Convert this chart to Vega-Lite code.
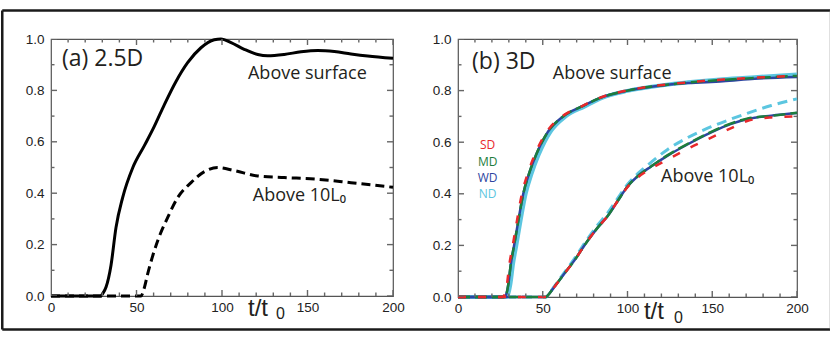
{
  "$schema": "https://vega.github.io/schema/vega-lite/v6.json",
  "padding": {"left": 0, "top": 8, "right": 0, "bottom": 0},
  "bounds": "flush",
  "spacing": 65,
  "config": {
    "view": {"stroke": "#555555", "strokeWidth": 1.2},
    "axis": {"domain": false, "grid": false, "ticks": false, "tickSize": 0, "labelFont": "Liberation Sans", "labelFontSize": 13.5, "labelColor": "#222222", "labelFlush": false, "labelOverlap": false}
  },
  "datasets": {
    "xticks": [
      {"v": 0, "kind": "major"}, {"v": 10, "kind": "minor"}, {"v": 20, "kind": "minor"}, {"v": 30, "kind": "minor"}, {"v": 40, "kind": "minor"}, {"v": 50, "kind": "major"}, {"v": 60, "kind": "minor"}, {"v": 70, "kind": "minor"}, {"v": 80, "kind": "minor"}, {"v": 90, "kind": "minor"}, {"v": 100, "kind": "major"}, {"v": 110, "kind": "minor"}, {"v": 120, "kind": "minor"}, {"v": 130, "kind": "minor"}, {"v": 140, "kind": "minor"}, {"v": 150, "kind": "major"}, {"v": 160, "kind": "minor"}, {"v": 170, "kind": "minor"}, {"v": 180, "kind": "minor"}, {"v": 190, "kind": "minor"}, {"v": 200, "kind": "major"}
    ],
    "yticks": [
      {"v": 0, "kind": "major"}, {"v": 0.1, "kind": "minor"}, {"v": 0.2, "kind": "major"}, {"v": 0.3, "kind": "minor"}, {"v": 0.4, "kind": "major"}, {"v": 0.5, "kind": "minor"}, {"v": 0.6, "kind": "major"}, {"v": 0.7, "kind": "minor"}, {"v": 0.8, "kind": "major"}, {"v": 0.9, "kind": "minor"}, {"v": 1.0, "kind": "major"}
    ],
    "a": [
      {"level": "surface", "t": 0, "y": 0}, {"level": "surface", "t": 29, "y": 0}, {"level": "surface", "t": 30.5, "y": 0.012}, {"level": "surface", "t": 32.2, "y": 0.035}, {"level": "surface", "t": 35.1, "y": 0.12}, {"level": "surface", "t": 38, "y": 0.266}, {"level": "surface", "t": 41.9, "y": 0.383}, {"level": "surface", "t": 47.8, "y": 0.499}, {"level": "surface", "t": 54.6, "y": 0.585}, {"level": "surface", "t": 60.4, "y": 0.66}, {"level": "surface", "t": 66.3, "y": 0.745}, {"level": "surface", "t": 73.1, "y": 0.835}, {"level": "surface", "t": 79.9, "y": 0.908}, {"level": "surface", "t": 87.7, "y": 0.966}, {"level": "surface", "t": 95.5, "y": 0.997}, {"level": "surface", "t": 99.4, "y": 1.0}, {"level": "surface", "t": 105.3, "y": 0.986}, {"level": "surface", "t": 113, "y": 0.96}, {"level": "surface", "t": 120.9, "y": 0.94}, {"level": "surface", "t": 126.7, "y": 0.935}, {"level": "surface", "t": 136.4, "y": 0.94}, {"level": "surface", "t": 146.2, "y": 0.95}, {"level": "surface", "t": 156, "y": 0.955}, {"level": "surface", "t": 165.7, "y": 0.951}, {"level": "surface", "t": 175.4, "y": 0.942}, {"level": "surface", "t": 185.2, "y": 0.934}, {"level": "surface", "t": 200, "y": 0.925},
      {"level": "10L0", "t": 0, "y": 0}, {"level": "10L0", "t": 52.6, "y": 0}, {"level": "10L0", "t": 54.5, "y": 0.03}, {"level": "10L0", "t": 56.5, "y": 0.085}, {"level": "10L0", "t": 62.4, "y": 0.215}, {"level": "10L0", "t": 68.2, "y": 0.305}, {"level": "10L0", "t": 74.1, "y": 0.383}, {"level": "10L0", "t": 81.9, "y": 0.441}, {"level": "10L0", "t": 89.7, "y": 0.484}, {"level": "10L0", "t": 97.5, "y": 0.5}, {"level": "10L0", "t": 107.2, "y": 0.488}, {"level": "10L0", "t": 120.9, "y": 0.467}, {"level": "10L0", "t": 136.4, "y": 0.461}, {"level": "10L0", "t": 156, "y": 0.454}, {"level": "10L0", "t": 175.4, "y": 0.441}, {"level": "10L0", "t": 200, "y": 0.423}
    ],
    "b": [
      {"series": "MD", "level": "surface", "t": 0, "y": 0}, {"series": "MD", "level": "surface", "t": 27, "y": 0}, {"series": "MD", "level": "surface", "t": 28.5, "y": 0.012}, {"series": "MD", "level": "surface", "t": 29.7, "y": 0.05}, {"series": "MD", "level": "surface", "t": 31.2, "y": 0.13}, {"series": "MD", "level": "surface", "t": 33.1, "y": 0.2}, {"series": "MD", "level": "surface", "t": 35.7, "y": 0.3}, {"series": "MD", "level": "surface", "t": 38.5, "y": 0.4}, {"series": "MD", "level": "surface", "t": 42, "y": 0.48}, {"series": "MD", "level": "surface", "t": 46, "y": 0.55}, {"series": "MD", "level": "surface", "t": 53, "y": 0.64}, {"series": "MD", "level": "surface", "t": 62, "y": 0.7}, {"series": "MD", "level": "surface", "t": 73.5, "y": 0.74}, {"series": "MD", "level": "surface", "t": 84.3, "y": 0.773}, {"series": "MD", "level": "surface", "t": 100, "y": 0.8}, {"series": "MD", "level": "surface", "t": 121.8, "y": 0.822}, {"series": "MD", "level": "surface", "t": 135.6, "y": 0.831}, {"series": "MD", "level": "surface", "t": 156.3, "y": 0.842}, {"series": "MD", "level": "surface", "t": 175, "y": 0.849}, {"series": "MD", "level": "surface", "t": 200, "y": 0.857},
      {"series": "SD", "level": "surface", "t": 0, "y": 0}, {"series": "SD", "level": "surface", "t": 26.2, "y": 0}, {"series": "SD", "level": "surface", "t": 27.7, "y": 0.012}, {"series": "SD", "level": "surface", "t": 28.9, "y": 0.05}, {"series": "SD", "level": "surface", "t": 30.4, "y": 0.13}, {"series": "SD", "level": "surface", "t": 32.3, "y": 0.2}, {"series": "SD", "level": "surface", "t": 34.9, "y": 0.3}, {"series": "SD", "level": "surface", "t": 37.7, "y": 0.4}, {"series": "SD", "level": "surface", "t": 41.2, "y": 0.48}, {"series": "SD", "level": "surface", "t": 45.2, "y": 0.55}, {"series": "SD", "level": "surface", "t": 52.3, "y": 0.64}, {"series": "SD", "level": "surface", "t": 61.5, "y": 0.7}, {"series": "SD", "level": "surface", "t": 73.5, "y": 0.741}, {"series": "SD", "level": "surface", "t": 84.3, "y": 0.774}, {"series": "SD", "level": "surface", "t": 100, "y": 0.801}, {"series": "SD", "level": "surface", "t": 121.8, "y": 0.823}, {"series": "SD", "level": "surface", "t": 135.6, "y": 0.832}, {"series": "SD", "level": "surface", "t": 156.3, "y": 0.843}, {"series": "SD", "level": "surface", "t": 175, "y": 0.85}, {"series": "SD", "level": "surface", "t": 200, "y": 0.857},
      {"series": "WD", "level": "surface", "t": 0, "y": 0}, {"series": "WD", "level": "surface", "t": 27, "y": 0}, {"series": "WD", "level": "surface", "t": 28.5, "y": 0.012}, {"series": "WD", "level": "surface", "t": 29.7, "y": 0.05}, {"series": "WD", "level": "surface", "t": 31.2, "y": 0.13}, {"series": "WD", "level": "surface", "t": 33.1, "y": 0.2}, {"series": "WD", "level": "surface", "t": 35.7, "y": 0.3}, {"series": "WD", "level": "surface", "t": 38.5, "y": 0.4}, {"series": "WD", "level": "surface", "t": 42, "y": 0.48}, {"series": "WD", "level": "surface", "t": 46, "y": 0.55}, {"series": "WD", "level": "surface", "t": 53, "y": 0.64}, {"series": "WD", "level": "surface", "t": 62, "y": 0.7}, {"series": "WD", "level": "surface", "t": 73.5, "y": 0.74}, {"series": "WD", "level": "surface", "t": 84.3, "y": 0.773}, {"series": "WD", "level": "surface", "t": 100, "y": 0.8}, {"series": "WD", "level": "surface", "t": 121.8, "y": 0.821}, {"series": "WD", "level": "surface", "t": 135.6, "y": 0.829}, {"series": "WD", "level": "surface", "t": 156.3, "y": 0.836}, {"series": "WD", "level": "surface", "t": 175, "y": 0.846}, {"series": "WD", "level": "surface", "t": 200, "y": 0.853},
      {"series": "ND", "level": "surface", "t": 0, "y": 0}, {"series": "ND", "level": "surface", "t": 28, "y": 0}, {"series": "ND", "level": "surface", "t": 29.6, "y": 0.012}, {"series": "ND", "level": "surface", "t": 30.9, "y": 0.05}, {"series": "ND", "level": "surface", "t": 32.5, "y": 0.13}, {"series": "ND", "level": "surface", "t": 34.4, "y": 0.2}, {"series": "ND", "level": "surface", "t": 37, "y": 0.3}, {"series": "ND", "level": "surface", "t": 39.9, "y": 0.4}, {"series": "ND", "level": "surface", "t": 43.5, "y": 0.48}, {"series": "ND", "level": "surface", "t": 47.5, "y": 0.55}, {"series": "ND", "level": "surface", "t": 54.5, "y": 0.64}, {"series": "ND", "level": "surface", "t": 63.5, "y": 0.7}, {"series": "ND", "level": "surface", "t": 74.5, "y": 0.738}, {"series": "ND", "level": "surface", "t": 85, "y": 0.772}, {"series": "ND", "level": "surface", "t": 100, "y": 0.799}, {"series": "ND", "level": "surface", "t": 121.8, "y": 0.822}, {"series": "ND", "level": "surface", "t": 135.6, "y": 0.832}, {"series": "ND", "level": "surface", "t": 156.3, "y": 0.844}, {"series": "ND", "level": "surface", "t": 175, "y": 0.852}, {"series": "ND", "level": "surface", "t": 200, "y": 0.862},
      {"series": "MD", "level": "10L0", "t": 0, "y": 0}, {"series": "MD", "level": "10L0", "t": 52, "y": 0}, {"series": "MD", "level": "10L0", "t": 53, "y": 0.006}, {"series": "MD", "level": "10L0", "t": 56.7, "y": 0.038}, {"series": "MD", "level": "10L0", "t": 62.7, "y": 0.09}, {"series": "MD", "level": "10L0", "t": 68.6, "y": 0.141}, {"series": "MD", "level": "10L0", "t": 76.5, "y": 0.218}, {"series": "MD", "level": "10L0", "t": 82.4, "y": 0.269}, {"series": "MD", "level": "10L0", "t": 88.3, "y": 0.314}, {"series": "MD", "level": "10L0", "t": 94.2, "y": 0.372}, {"series": "MD", "level": "10L0", "t": 100.1, "y": 0.429}, {"series": "MD", "level": "10L0", "t": 106, "y": 0.468}, {"series": "MD", "level": "10L0", "t": 113.9, "y": 0.506}, {"series": "MD", "level": "10L0", "t": 123.7, "y": 0.55}, {"series": "MD", "level": "10L0", "t": 135.6, "y": 0.594}, {"series": "MD", "level": "10L0", "t": 149.4, "y": 0.64}, {"series": "MD", "level": "10L0", "t": 161.2, "y": 0.673}, {"series": "MD", "level": "10L0", "t": 171, "y": 0.692}, {"series": "MD", "level": "10L0", "t": 184.8, "y": 0.702}, {"series": "MD", "level": "10L0", "t": 200, "y": 0.714},
      {"series": "WD", "level": "10L0", "t": 0, "y": 0}, {"series": "WD", "level": "10L0", "t": 52, "y": 0}, {"series": "WD", "level": "10L0", "t": 53, "y": 0.006}, {"series": "WD", "level": "10L0", "t": 56.7, "y": 0.038}, {"series": "WD", "level": "10L0", "t": 62.7, "y": 0.09}, {"series": "WD", "level": "10L0", "t": 68.6, "y": 0.141}, {"series": "WD", "level": "10L0", "t": 76.5, "y": 0.218}, {"series": "WD", "level": "10L0", "t": 82.4, "y": 0.269}, {"series": "WD", "level": "10L0", "t": 88.3, "y": 0.314}, {"series": "WD", "level": "10L0", "t": 94.2, "y": 0.372}, {"series": "WD", "level": "10L0", "t": 100.1, "y": 0.429}, {"series": "WD", "level": "10L0", "t": 106, "y": 0.468}, {"series": "WD", "level": "10L0", "t": 113.9, "y": 0.506}, {"series": "WD", "level": "10L0", "t": 123.7, "y": 0.548}, {"series": "WD", "level": "10L0", "t": 135.6, "y": 0.592}, {"series": "WD", "level": "10L0", "t": 149.4, "y": 0.638}, {"series": "WD", "level": "10L0", "t": 161.2, "y": 0.671}, {"series": "WD", "level": "10L0", "t": 171, "y": 0.69}, {"series": "WD", "level": "10L0", "t": 184.8, "y": 0.703}, {"series": "WD", "level": "10L0", "t": 200, "y": 0.713},
      {"series": "SD", "level": "10L0", "t": 0, "y": 0}, {"series": "SD", "level": "10L0", "t": 52, "y": 0}, {"series": "SD", "level": "10L0", "t": 53, "y": 0.006}, {"series": "SD", "level": "10L0", "t": 56.7, "y": 0.038}, {"series": "SD", "level": "10L0", "t": 62.7, "y": 0.09}, {"series": "SD", "level": "10L0", "t": 68.6, "y": 0.141}, {"series": "SD", "level": "10L0", "t": 76.5, "y": 0.218}, {"series": "SD", "level": "10L0", "t": 82.4, "y": 0.269}, {"series": "SD", "level": "10L0", "t": 88.3, "y": 0.314}, {"series": "SD", "level": "10L0", "t": 94.2, "y": 0.372}, {"series": "SD", "level": "10L0", "t": 100.1, "y": 0.427}, {"series": "SD", "level": "10L0", "t": 106, "y": 0.463}, {"series": "SD", "level": "10L0", "t": 113.9, "y": 0.498}, {"series": "SD", "level": "10L0", "t": 123.7, "y": 0.533}, {"series": "SD", "level": "10L0", "t": 135.6, "y": 0.575}, {"series": "SD", "level": "10L0", "t": 149.4, "y": 0.618}, {"series": "SD", "level": "10L0", "t": 161.2, "y": 0.655}, {"series": "SD", "level": "10L0", "t": 171, "y": 0.683}, {"series": "SD", "level": "10L0", "t": 184.8, "y": 0.696}, {"series": "SD", "level": "10L0", "t": 200, "y": 0.7},
      {"series": "ND", "level": "10L0", "t": 0, "y": 0}, {"series": "ND", "level": "10L0", "t": 52, "y": 0}, {"series": "ND", "level": "10L0", "t": 53, "y": 0.006}, {"series": "ND", "level": "10L0", "t": 56.7, "y": 0.04}, {"series": "ND", "level": "10L0", "t": 62.7, "y": 0.094}, {"series": "ND", "level": "10L0", "t": 68.6, "y": 0.148}, {"series": "ND", "level": "10L0", "t": 76.5, "y": 0.226}, {"series": "ND", "level": "10L0", "t": 82.4, "y": 0.279}, {"series": "ND", "level": "10L0", "t": 88.3, "y": 0.326}, {"series": "ND", "level": "10L0", "t": 94.2, "y": 0.382}, {"series": "ND", "level": "10L0", "t": 100.1, "y": 0.437}, {"series": "ND", "level": "10L0", "t": 106, "y": 0.478}, {"series": "ND", "level": "10L0", "t": 113.9, "y": 0.522}, {"series": "ND", "level": "10L0", "t": 123.7, "y": 0.572}, {"series": "ND", "level": "10L0", "t": 135.6, "y": 0.618}, {"series": "ND", "level": "10L0", "t": 149.4, "y": 0.66}, {"series": "ND", "level": "10L0", "t": 161.2, "y": 0.69}, {"series": "ND", "level": "10L0", "t": 171, "y": 0.713}, {"series": "ND", "level": "10L0", "t": 184.8, "y": 0.742}, {"series": "ND", "level": "10L0", "t": 200, "y": 0.768}
    ],
    "labels": [
      {"panel": "a", "kind": "panel", "label": "(a) 2.5D", "t": 6.4, "y": 0.895},
      {"panel": "a", "kind": "note", "label": "Above surface", "t": 115.2, "y": 0.846},
      {"panel": "a", "kind": "note", "label": "Above 10L₀", "t": 118, "y": 0.37},
      {"panel": "a", "kind": "axis", "label": "t/t", "t": 115.2, "y": -0.078},
      {"panel": "a", "kind": "sub", "label": "0", "t": 131.6, "y": -0.089},
      {"panel": "b", "kind": "panel", "label": "(b) 3D", "t": 8.3, "y": 0.884},
      {"panel": "b", "kind": "note", "label": "Above surface", "t": 55.9, "y": 0.845},
      {"panel": "b", "kind": "note", "label": "Above 10L₀", "t": 119.8, "y": 0.444},
      {"panel": "b", "kind": "axis", "label": "t/t", "t": 109.7, "y": -0.085},
      {"panel": "b", "kind": "sub", "label": "0", "t": 127.4, "y": -0.099}
    ],
    "legend": [
      {"series": "SD", "t": 17.5, "y": 0.573},
      {"series": "MD", "t": 17.5, "y": 0.508},
      {"series": "WD", "t": 17.5, "y": 0.446},
      {"series": "ND", "t": 17.5, "y": 0.383}
    ]
  },
  "hconcat": [
    {
      "width": 342,
      "height": 257,
      "resolve": {"scale": {"x": "independent", "y": "independent"}},
      "layer": [
        {
          "data": {"name": "a"},
          "transform": [{"filter": "datum.level === 'surface'"}],
          "mark": {"type": "line", "color": "#000000", "strokeWidth": 3, "interpolate": "monotone"},
          "encoding": {
            "x": {"field": "t", "type": "quantitative", "scale": {"domain": [0, 200]}, "axis": {"orient": "bottom", "values": [0, 50, 100, 150, 200], "labelPadding": 4, "title": null}},
            "y": {"field": "y", "type": "quantitative", "scale": {"domain": [0, 1]}, "axis": {"orient": "left", "values": [0, 0.2, 0.4, 0.6, 0.8, 1], "format": ".1f", "labelPadding": 7, "title": null}}
          }
        },
        {
          "data": {"name": "a"},
          "transform": [{"filter": "datum.level === '10L0'"}],
          "mark": {"type": "line", "color": "#000000", "strokeWidth": 3, "strokeDash": [9, 5], "interpolate": "monotone"},
          "encoding": {
            "x": {"field": "t", "type": "quantitative", "scale": {"domain": [0, 200]}, "axis": null},
            "y": {"field": "y", "type": "quantitative", "scale": {"domain": [0, 1]}, "axis": null}
          }
        },
        {
          "data": {"name": "labels"},
          "transform": [{"filter": "datum.panel === 'a' && datum.kind === 'note'"}],
          "mark": {"type": "text", "align": "left", "baseline": "alphabetic", "font": "Open Sans", "fontSize": 18, "color": "#231f20"},
          "encoding": {
            "x": {"field": "t", "type": "quantitative", "scale": {"domain": [0, 200]}, "axis": null},
            "y": {"field": "y", "type": "quantitative", "scale": {"domain": [0, 1]}, "axis": null},
            "text": {"field": "label"}
          }
        },
        {
          "data": {"name": "labels"},
          "transform": [{"filter": "datum.panel === 'a' && datum.kind === 'panel'"}],
          "mark": {"type": "text", "align": "left", "baseline": "alphabetic", "font": "Open Sans", "fontSize": 23, "color": "#231f20"},
          "encoding": {
            "x": {"field": "t", "type": "quantitative", "scale": {"domain": [0, 200]}, "axis": null},
            "y": {"field": "y", "type": "quantitative", "scale": {"domain": [0, 1]}, "axis": null},
            "text": {"field": "label"}
          }
        },
        {
          "data": {"name": "labels"},
          "transform": [{"filter": "datum.panel === 'a' && datum.kind === 'axis'"}],
          "mark": {"type": "text", "align": "left", "baseline": "alphabetic", "font": "Liberation Sans", "fontSize": 24, "color": "#231f20"},
          "encoding": {
            "x": {"field": "t", "type": "quantitative", "scale": {"domain": [0, 200]}, "axis": null},
            "y": {"field": "y", "type": "quantitative", "scale": {"domain": [0, 1]}, "axis": null},
            "text": {"field": "label"}
          }
        },
        {
          "data": {"name": "labels"},
          "transform": [{"filter": "datum.panel === 'a' && datum.kind === 'sub'"}],
          "mark": {"type": "text", "align": "left", "baseline": "alphabetic", "font": "Liberation Sans", "fontSize": 16, "color": "#231f20"},
          "encoding": {
            "x": {"field": "t", "type": "quantitative", "scale": {"domain": [0, 200]}, "axis": null},
            "y": {"field": "y", "type": "quantitative", "scale": {"domain": [0, 1]}, "axis": null},
            "text": {"field": "label"}
          }
        },
        {
          "data": {"name": "xticks"},
          "mark": {"type": "tick", "orient": "vertical", "clip": true, "color": "#666666", "thickness": 1.4, "opacity": 1},
          "encoding": {
            "x": {"field": "v", "type": "quantitative", "scale": {"domain": [0, 200]}, "axis": null},
            "y": {"datum": 0, "type": "quantitative", "scale": {"domain": [0, 1]}, "axis": null},
            "size": {"field": "kind", "type": "ordinal", "scale": {"domain": ["major", "minor"], "range": [12, 7]}, "legend": null}
          }
        },
        {
          "data": {"name": "xticks"},
          "mark": {"type": "tick", "orient": "vertical", "clip": true, "color": "#666666", "thickness": 1.4, "opacity": 1},
          "encoding": {
            "x": {"field": "v", "type": "quantitative", "scale": {"domain": [0, 200]}, "axis": null},
            "y": {"datum": 1, "type": "quantitative", "scale": {"domain": [0, 1]}, "axis": null},
            "size": {"field": "kind", "type": "ordinal", "scale": {"domain": ["major", "minor"], "range": [12, 7]}, "legend": null}
          }
        },
        {
          "data": {"name": "yticks"},
          "mark": {"type": "tick", "orient": "horizontal", "clip": true, "color": "#666666", "thickness": 1.4, "opacity": 1},
          "encoding": {
            "y": {"field": "v", "type": "quantitative", "scale": {"domain": [0, 1]}, "axis": null},
            "x": {"datum": 0, "type": "quantitative", "scale": {"domain": [0, 200]}, "axis": null},
            "size": {"field": "kind", "type": "ordinal", "scale": {"domain": ["major", "minor"], "range": [12, 7]}, "legend": null}
          }
        },
        {
          "data": {"name": "yticks"},
          "mark": {"type": "tick", "orient": "horizontal", "clip": true, "color": "#666666", "thickness": 1.4, "opacity": 1},
          "encoding": {
            "y": {"field": "v", "type": "quantitative", "scale": {"domain": [0, 1]}, "axis": null},
            "x": {"datum": 200, "type": "quantitative", "scale": {"domain": [0, 200]}, "axis": null},
            "size": {"field": "kind", "type": "ordinal", "scale": {"domain": ["major", "minor"], "range": [12, 7]}, "legend": null}
          }
        },
        {
          "data": {"values": [{}]},
          "mark": {"type": "rule", "color": "#1a1a1a", "strokeWidth": 2.5},
          "encoding": {
            "x": {"datum": -28.5, "type": "quantitative", "scale": {"domain": [0, 200]}, "axis": null},
            "x2": {"datum": 455.7},
            "y": {"datum": 1.111, "type": "quantitative", "scale": {"domain": [0, 1]}, "axis": null}
          }
        },
        {
          "data": {"values": [{}]},
          "mark": {"type": "rule", "color": "#1a1a1a", "strokeWidth": 2.5},
          "encoding": {
            "x": {"datum": -28.5, "type": "quantitative", "scale": {"domain": [0, 200]}, "axis": null},
            "x2": {"datum": 455.7},
            "y": {"datum": -0.13, "type": "quantitative", "scale": {"domain": [0, 1]}, "axis": null}
          }
        },
        {
          "data": {"values": [{}]},
          "mark": {"type": "rule", "color": "#1a1a1a", "strokeWidth": 2.5},
          "encoding": {
            "x": {"datum": -28.5, "type": "quantitative", "scale": {"domain": [0, 200]}, "axis": null},
            "y": {"datum": -0.13, "type": "quantitative", "scale": {"domain": [0, 1]}, "axis": null},
            "y2": {"datum": 1.111}
          }
        },
        {
          "data": {"values": [{}]},
          "mark": {"type": "rule", "color": "#8a8a8a", "strokeWidth": 1},
          "encoding": {
            "x": {"datum": 455.7, "type": "quantitative", "scale": {"domain": [0, 200]}, "axis": null},
            "y": {"datum": -0.13, "type": "quantitative", "scale": {"domain": [0, 1]}, "axis": null},
            "y2": {"datum": 1.111}
          }
        }
      ]
    },
    {
      "width": 339,
      "height": 258,
      "resolve": {"scale": {"x": "independent", "y": "independent"}},
      "layer": [
        {
          "data": {"name": "b"},
          "transform": [{"filter": "datum.series === 'ND' && datum.level === 'surface'"}],
          "mark": {"type": "line", "strokeWidth": 4, "interpolate": "monotone"},
          "encoding": {
            "x": {"field": "t", "type": "quantitative", "scale": {"domain": [0, 200]}, "axis": {"orient": "bottom", "values": [0, 50, 100, 150, 200], "labelPadding": 4, "title": null}},
            "y": {"field": "y", "type": "quantitative", "scale": {"domain": [0, 1]}, "axis": {"orient": "left", "values": [0, 0.2, 0.4, 0.6, 0.8, 1], "format": ".1f", "labelPadding": 7, "title": null}},
            "color": {"field": "series", "type": "nominal", "scale": {"domain": ["SD", "MD", "WD", "ND"], "range": ["#e8282b", "#1d7d3d", "#2d45a0", "#5cc6e0"]}, "legend": null}
          }
        },
        {
          "data": {"name": "b"},
          "transform": [{"filter": "datum.series === 'ND' && datum.level === '10L0'"}],
          "mark": {"type": "line", "strokeWidth": 3, "strokeDash": [10, 6], "interpolate": "monotone"},
          "encoding": {
            "x": {"field": "t", "type": "quantitative", "scale": {"domain": [0, 200]}, "axis": null},
            "y": {"field": "y", "type": "quantitative", "scale": {"domain": [0, 1]}, "axis": null},
            "color": {"field": "series", "type": "nominal", "scale": {"domain": ["SD", "MD", "WD", "ND"], "range": ["#e8282b", "#1d7d3d", "#2d45a0", "#5cc6e0"]}, "legend": null}
          }
        },
        {
          "data": {"name": "b"},
          "transform": [{"filter": "datum.series === 'WD'"}],
          "mark": {"type": "line", "strokeWidth": 2.5, "interpolate": "monotone"},
          "encoding": {
            "x": {"field": "t", "type": "quantitative", "scale": {"domain": [0, 200]}, "axis": null},
            "y": {"field": "y", "type": "quantitative", "scale": {"domain": [0, 1]}, "axis": null},
            "color": {"field": "series", "type": "nominal", "scale": {"domain": ["SD", "MD", "WD", "ND"], "range": ["#e8282b", "#1d7d3d", "#2d45a0", "#5cc6e0"]}, "legend": null},
            "detail": {"field": "level"}
          }
        },
        {
          "data": {"name": "b"},
          "transform": [{"filter": "datum.series === 'MD'"}],
          "mark": {"type": "line", "strokeWidth": 2.5, "strokeDash": [12, 5], "interpolate": "monotone"},
          "encoding": {
            "x": {"field": "t", "type": "quantitative", "scale": {"domain": [0, 200]}, "axis": null},
            "y": {"field": "y", "type": "quantitative", "scale": {"domain": [0, 1]}, "axis": null},
            "color": {"field": "series", "type": "nominal", "scale": {"domain": ["SD", "MD", "WD", "ND"], "range": ["#e8282b", "#1d7d3d", "#2d45a0", "#5cc6e0"]}, "legend": null},
            "detail": {"field": "level"}
          }
        },
        {
          "data": {"name": "b"},
          "transform": [{"filter": "datum.series === 'SD'"}],
          "mark": {"type": "line", "strokeWidth": 2.5, "strokeDash": [8, 12], "interpolate": "monotone"},
          "encoding": {
            "x": {"field": "t", "type": "quantitative", "scale": {"domain": [0, 200]}, "axis": null},
            "y": {"field": "y", "type": "quantitative", "scale": {"domain": [0, 1]}, "axis": null},
            "color": {"field": "series", "type": "nominal", "scale": {"domain": ["SD", "MD", "WD", "ND"], "range": ["#e8282b", "#1d7d3d", "#2d45a0", "#5cc6e0"]}, "legend": null},
            "detail": {"field": "level"}
          }
        },
        {
          "data": {"name": "labels"},
          "transform": [{"filter": "datum.panel === 'b' && datum.kind === 'note'"}],
          "mark": {"type": "text", "align": "left", "baseline": "alphabetic", "font": "Open Sans", "fontSize": 18, "color": "#231f20"},
          "encoding": {
            "x": {"field": "t", "type": "quantitative", "scale": {"domain": [0, 200]}, "axis": null},
            "y": {"field": "y", "type": "quantitative", "scale": {"domain": [0, 1]}, "axis": null},
            "text": {"field": "label"}
          }
        },
        {
          "data": {"name": "labels"},
          "transform": [{"filter": "datum.panel === 'b' && datum.kind === 'panel'"}],
          "mark": {"type": "text", "align": "left", "baseline": "alphabetic", "font": "Open Sans", "fontSize": 23, "color": "#231f20"},
          "encoding": {
            "x": {"field": "t", "type": "quantitative", "scale": {"domain": [0, 200]}, "axis": null},
            "y": {"field": "y", "type": "quantitative", "scale": {"domain": [0, 1]}, "axis": null},
            "text": {"field": "label"}
          }
        },
        {
          "data": {"name": "labels"},
          "transform": [{"filter": "datum.panel === 'b' && datum.kind === 'axis'"}],
          "mark": {"type": "text", "align": "left", "baseline": "alphabetic", "font": "Liberation Sans", "fontSize": 24, "color": "#231f20"},
          "encoding": {
            "x": {"field": "t", "type": "quantitative", "scale": {"domain": [0, 200]}, "axis": null},
            "y": {"field": "y", "type": "quantitative", "scale": {"domain": [0, 1]}, "axis": null},
            "text": {"field": "label"}
          }
        },
        {
          "data": {"name": "labels"},
          "transform": [{"filter": "datum.panel === 'b' && datum.kind === 'sub'"}],
          "mark": {"type": "text", "align": "left", "baseline": "alphabetic", "font": "Liberation Sans", "fontSize": 16, "color": "#231f20"},
          "encoding": {
            "x": {"field": "t", "type": "quantitative", "scale": {"domain": [0, 200]}, "axis": null},
            "y": {"field": "y", "type": "quantitative", "scale": {"domain": [0, 1]}, "axis": null},
            "text": {"field": "label"}
          }
        },
        {
          "data": {"name": "legend"},
          "mark": {"type": "text", "align": "center", "baseline": "alphabetic", "font": "Open Sans", "fontSize": 12},
          "encoding": {
            "x": {"field": "t", "type": "quantitative", "scale": {"domain": [0, 200]}, "axis": null},
            "y": {"field": "y", "type": "quantitative", "scale": {"domain": [0, 1]}, "axis": null},
            "text": {"field": "series"},
            "color": {"field": "series", "type": "nominal", "scale": {"domain": ["SD", "MD", "WD", "ND"], "range": ["#e8282b", "#1d7d3d", "#2d45a0", "#5cc6e0"]}, "legend": null}
          }
        },
        {
          "data": {"name": "xticks"},
          "mark": {"type": "tick", "orient": "vertical", "clip": true, "color": "#666666", "thickness": 1.4, "opacity": 1},
          "encoding": {
            "x": {"field": "v", "type": "quantitative", "scale": {"domain": [0, 200]}, "axis": null},
            "y": {"datum": 0, "type": "quantitative", "scale": {"domain": [0, 1]}, "axis": null},
            "size": {"field": "kind", "type": "ordinal", "scale": {"domain": ["major", "minor"], "range": [12, 7]}, "legend": null}
          }
        },
        {
          "data": {"name": "xticks"},
          "mark": {"type": "tick", "orient": "vertical", "clip": true, "color": "#666666", "thickness": 1.4, "opacity": 1},
          "encoding": {
            "x": {"field": "v", "type": "quantitative", "scale": {"domain": [0, 200]}, "axis": null},
            "y": {"datum": 1, "type": "quantitative", "scale": {"domain": [0, 1]}, "axis": null},
            "size": {"field": "kind", "type": "ordinal", "scale": {"domain": ["major", "minor"], "range": [12, 7]}, "legend": null}
          }
        },
        {
          "data": {"name": "yticks"},
          "mark": {"type": "tick", "orient": "horizontal", "clip": true, "color": "#666666", "thickness": 1.4, "opacity": 1},
          "encoding": {
            "y": {"field": "v", "type": "quantitative", "scale": {"domain": [0, 1]}, "axis": null},
            "x": {"datum": 0, "type": "quantitative", "scale": {"domain": [0, 200]}, "axis": null},
            "size": {"field": "kind", "type": "ordinal", "scale": {"domain": ["major", "minor"], "range": [12, 7]}, "legend": null}
          }
        },
        {
          "data": {"name": "yticks"},
          "mark": {"type": "tick", "orient": "horizontal", "clip": true, "color": "#666666", "thickness": 1.4, "opacity": 1},
          "encoding": {
            "y": {"field": "v", "type": "quantitative", "scale": {"domain": [0, 1]}, "axis": null},
            "x": {"datum": 200, "type": "quantitative", "scale": {"domain": [0, 200]}, "axis": null},
            "size": {"field": "kind", "type": "ordinal", "scale": {"domain": ["major", "minor"], "range": [12, 7]}, "legend": null}
          }
        }
      ]
    }
  ]
}
